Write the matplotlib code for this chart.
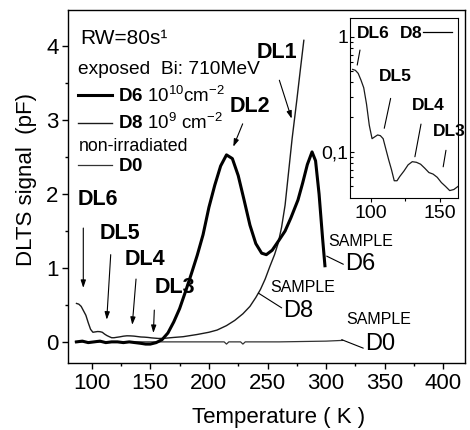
import matplotlib
matplotlib.use('Agg')
import matplotlib.pyplot as plt
from matplotlib.ticker import MultipleLocator, FixedLocator, FixedFormatter, NullFormatter
from matplotlib.lines import Line2D

plt.rcParams['font.family'] = ['Liberation Sans', 'DejaVu Sans']
plt.rcParams['mathtext.fontset'] = 'custom'
plt.rcParams['mathtext.rm'] = 'Liberation Sans'
plt.rcParams['mathtext.bf'] = 'Liberation Sans:bold'
plt.rcParams['mathtext.it'] = 'Liberation Sans:italic'

# ---------------- data ----------------
t_d6 = [87, 92, 97, 102, 107, 112, 117, 122, 127, 132, 137, 142, 146, 150, 155, 160, 165, 170,
        175, 180, 185, 190, 195, 200, 205, 210, 215, 220, 225, 230, 235, 240, 245, 249, 254,
        260, 265, 270, 276, 280, 284, 288, 291, 294, 297, 299]
s_d6 = [0.0, 0.01, -0.01, 0.0, 0.01, -0.01, 0.0, 0.0, -0.01, 0.0, -0.01, -0.02, -0.03, -0.03,
        -0.01, 0.03, 0.12, 0.27, 0.45, 0.68, 0.92, 1.17, 1.45, 1.82, 2.12, 2.38, 2.53, 2.48,
        2.25, 1.92, 1.58, 1.33, 1.20, 1.18, 1.24, 1.38, 1.50, 1.68, 1.92, 2.15, 2.40, 2.57,
        2.45, 2.00, 1.40, 1.03]

t_d8 = [87, 89, 91, 93, 95, 97, 99, 101, 103, 105, 107, 109, 111, 113, 115, 117, 119, 121,
        124, 127, 130, 133, 136, 139, 142, 145, 148, 151, 154, 157, 160, 163, 170, 178, 190,
        200, 207, 215, 222, 229, 235, 240, 244, 248, 252, 256, 259, 262, 265, 268, 271, 275,
        278, 281]
s_d8 = [0.52, 0.51, 0.48, 0.42, 0.36, 0.26, 0.17, 0.13, 0.135, 0.14, 0.138, 0.13, 0.105,
        0.085, 0.07, 0.056, 0.056, 0.061, 0.068, 0.077, 0.082, 0.081, 0.078, 0.072, 0.066,
        0.064, 0.060, 0.054, 0.050, 0.046, 0.047, 0.050, 0.06, 0.07, 0.10, 0.13, 0.16, 0.22,
        0.29, 0.38, 0.48, 0.60, 0.71, 0.85, 1.02, 1.18, 1.33, 1.55, 1.85, 2.30, 2.75, 3.27,
        3.68, 4.08]

t_d0 = [86, 120, 150, 200, 213, 215, 217, 227, 229, 231, 260, 300, 314]
s_d0 = [0.0, 0.0, 0.0, 0.0, 0.0, -0.03, 0.0, 0.0, -0.03, 0.0, 0.0, 0.01, 0.02]

x_ticks = [100, 150, 200, 250, 300, 350, 400]
y_ticks = [0, 1, 2, 3, 4]
inset_x_ticks = [100, 150]
inset_y_ticks = [0.1, 1]
inset_y_labels = ['0,1', '1']

# ---------------- figure ----------------
fig = plt.figure(figsize=(4.7, 4.3), dpi=100)
ax = fig.add_axes([0.1453, 0.1551, 0.844, 0.8216])

ax.plot(t_d0, s_d0, color='#333333', lw=0.9)
ax.plot(t_d8, s_d8, color='#1a1a1a', lw=1.0)
ax.plot(t_d6, s_d6, color='black', lw=2.2)

ax.set_xlim(80, 418.5)
ax.set_ylim(-0.29, 4.49)
ax.set_xticks(x_ticks)
ax.set_yticks(y_ticks)
ax.xaxis.set_minor_locator(MultipleLocator(25))
ax.yaxis.set_minor_locator(MultipleLocator(0.5))
ax.tick_params(which='both', direction='out', width=1, labelsize=16, pad=3)
ax.tick_params(which='major', length=4)
ax.tick_params(which='minor', length=2.5)
for sp in ax.spines.values():
    sp.set_linewidth(1.0)

ax.set_xlabel('Temperature ( K )', fontsize=16)
ax.set_ylabel('DLTS signal  (pF)', fontsize=16)
ax.xaxis.set_label_coords(0.529, -0.125)
ax.yaxis.set_label_coords(-0.078, 0.519)

# header texts
ax.text(90, 4.11, 'RW=80s¹', fontsize=15, va='center', ha='left')
ax.text(88.6, 3.68, 'exposed  Bi: 710MeV', fontsize=13.8, va='center', ha='left')
ax.text(88.6, 2.64, 'non-irradiated', fontsize=12.8, va='center', ha='left')

h6 = Line2D([], [], color='black', lw=2.2)
h8 = Line2D([], [], color='#1a1a1a', lw=1.0)
h0 = Line2D([], [], color='#333333', lw=0.9)
leg1 = ax.legend([h6, h8], [r'$\mathbf{D6}$ 10$^{10}$cm$^{-2}$', r'$\mathbf{D8}$ 10$^{9}$ cm$^{-2}$'],
                 loc='center left', bbox_to_anchor=(0.0245, 0.719), frameon=False, fontsize=13.5,
                 handlelength=1.8, handletextpad=0.35, borderpad=0, borderaxespad=0,
                 labelspacing=0.4)
ax.add_artist(leg1)
ax.legend([h0], [r'$\mathbf{D0}$'], loc='center left', bbox_to_anchor=(0.0245, 0.5565),
          frameon=False, fontsize=13.5, handlelength=1.8, handletextpad=0.35, borderpad=0,
          borderaxespad=0)

# DL labels with arrows
arr = dict(arrowstyle='-|>,head_length=0.45,head_width=0.15', color='black', lw=0.8,
           shrinkA=0, shrinkB=0)
dl_labels = [
    ('DL6', (88.3, 1.93), (92.8, 1.54), (92.8, 0.73)),
    ('DL5', (106.5, 1.47), (116.2, 1.18), (112.8, 0.30)),
    ('DL4', (128.4, 1.11), (137.8, 0.85), (134.6, 0.23)),
    ('DL3', (154.0, 0.74), (153.4, 0.43), (152.6, 0.12)),
    ('DL1', (240.8, 3.92), (260.1, 3.54), (270.6, 3.02)),
    ('DL2', (218.0, 3.18), (228.8, 2.95), (220.8, 2.64)),
]
for name, tpos, a0, a1 in dl_labels:
    ax.text(tpos[0], tpos[1], name, fontsize=15.5, fontweight='bold', ha='left', va='center')
    ax.annotate('', xy=a1, xytext=a0, arrowprops=arr)

# SAMPLE labels
line = dict(arrowstyle='-', color='black', lw=0.8, shrinkA=0, shrinkB=0)
samples = [
    ('D6', (301.6, 1.36), (316.1, 1.05), (300.5, 1.16), (314.7, 1.05)),
    ('D8', (252.7, 0.73), (263.5, 0.42), (242.2, 0.66), (262.1, 0.46)),
    ('D0', (317.0, 0.30), (333.2, -0.03), (313.3, 0.03), (331.7, -0.085)),
]
for name, spos, npos, l0, l1 in samples:
    ax.text(spos[0], spos[1], 'SAMPLE', fontsize=11.5, ha='left', va='center')
    ax.text(npos[0], npos[1], name, fontsize=17, ha='left', va='center')
    ax.annotate('', xy=l1, xytext=l0, arrowprops=line)

# ---------------- inset ----------------
ax_in = fig.add_axes([0.7447, 0.5388, 0.2304, 0.4186])
ax_in.set_yscale('log')
ax_in.plot(t_d8, s_d8, color='#1a1a1a', lw=0.9)
ax_in.set_xlim(85.1, 163.2)
ax_in.set_ylim(0.0394, 1.445)
ax_in.xaxis.set_major_locator(FixedLocator(inset_x_ticks))
ax_in.xaxis.set_minor_locator(FixedLocator([125]))
ax_in.yaxis.set_major_locator(FixedLocator(inset_y_ticks))
ax_in.yaxis.set_major_formatter(FixedFormatter(inset_y_labels))
ax_in.yaxis.set_minor_locator(FixedLocator([0.05, 0.06, 0.07, 0.08, 0.09,
                                             0.2, 0.3, 0.4, 0.5, 0.6, 0.7, 0.8, 0.9]))
ax_in.yaxis.set_minor_formatter(NullFormatter())
ax_in.tick_params(which='both', labelsize=14, width=0.8)
ax_in.tick_params(axis='x', which='major', direction='out', length=3, pad=2)
ax_in.tick_params(axis='x', which='minor', direction='out', length=2)
ax_in.tick_params(axis='y', which='major', direction='in', length=3, pad=1)
ax_in.tick_params(axis='y', which='minor', direction='in', length=2)
for sp in ax_in.spines.values():
    sp.set_linewidth(0.8)

inset_labels = [
    ('DL6', (89.9, 1.07), (92.3, 0.766), (90.3, 0.567)),
    ('DL5', (106.2, 0.449), (114.4, 0.291), (109.8, 0.16)),
    ('DL4', (129.6, 0.25), (136.3, 0.174), (131.9, 0.0905)),
    ('DL3', (144.7, 0.149), (154.3, 0.103), (152.3, 0.074)),
]
for name, tpos, l0, l1 in inset_labels:
    ax_in.text(tpos[0], tpos[1], name, fontsize=12.5, fontweight='bold', ha='left', va='center')
    ax_in.annotate('', xy=l1, xytext=l0, arrowprops=dict(arrowstyle='-', color='black',
                                                        lw=0.8, shrinkA=0, shrinkB=0))
ax_in.legend([Line2D([], [], color='black', lw=0.9)], [r'$\mathbf{D8}$'], markerfirst=False,
             loc='center right', bbox_to_anchor=(0.945, 0.917), frameon=False, fontsize=12.5,
             handlelength=1.7, handletextpad=0.0, borderpad=0, borderaxespad=0)

fig.savefig('out.png', dpi=100)
